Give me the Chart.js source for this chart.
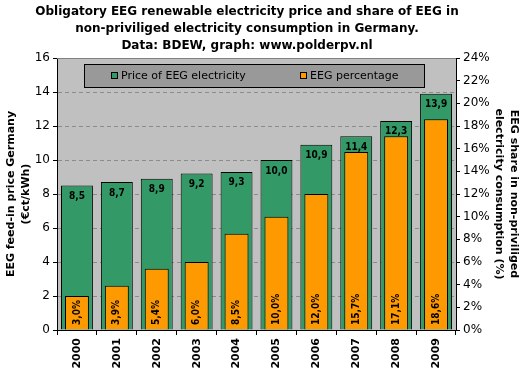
<!DOCTYPE html>
<html><head><meta charset="utf-8">
<script src="https://cdn.jsdelivr.net/npm/chart.js@4"></script>
<style>html,body{margin:0;padding:0;background:#fff}#wrap{width:531px;height:381px}</style>
</head><body><div id="wrap"><canvas id="c" width="531" height="381"></canvas></div>
<script>
const years = ['2000','2001','2002','2003','2004','2005','2006','2007','2008','2009'];
const priceValues = [8.5, 8.7, 8.9, 9.2, 9.3, 10.0, 10.9, 11.4, 12.3, 13.9];
const shareValues = [3.0, 3.9, 5.4, 6.0, 8.5, 10.0, 12.0, 15.7, 17.1, 18.6];
const titleLines = ['Obligatory EEG renewable electricity price and share of EEG in','non-priviliged electricity consumption in Germany.','Data: BDEW, graph: www.polderpv.nl'];
const leftTitle = ['EEG feed-in price Germany','(€ct/kWh)'];
const rightTitle = ['EEG share in non-priviliged','electricity consumption (%)'];

const fmt = v => v.toFixed(1).replace('.', ',');

const deco = {
  id: 'deco',
  beforeDraw(chart) {
    const {ctx, chartArea: a} = chart;
    ctx.save();
    ctx.fillStyle = '#c0c0c0';
    ctx.fillRect(a.left, a.top, a.right - a.left, a.bottom - a.top);
    ctx.restore();
  },
  afterDatasetsDraw(chart) {
    const {ctx, chartArea: a} = chart;
    ctx.save();
    ctx.strokeStyle = '#808080'; ctx.lineWidth = 1;
    ctx.beginPath(); ctx.moveTo(a.left, a.top + 0.5); ctx.lineTo(a.right, a.top + 0.5); ctx.stroke();
    const m0 = chart.getDatasetMeta(1), m1 = chart.getDatasetMeta(0);
    ctx.fillStyle = '#000';
    ctx.font = 'bold 10px "DejaVu Sans Condensed"';
    ctx.textAlign = 'center'; ctx.textBaseline = 'middle';
    m0.data.forEach((b, i) => { ctx.fillText(fmt(priceValues[i]), b.x, b.y + 11); });
    m1.data.forEach((b, i) => {
      ctx.save();
      ctx.translate(b.x, a.bottom - 5);
      ctx.rotate(-Math.PI / 2);
      ctx.textAlign = 'left';
      ctx.fillText(fmt(shareValues[i]) + '%', 0, 0);
      ctx.restore();
    });
    const lx = 84, ly = 64, lw = 340, lh = 23;
    ctx.fillStyle = '#999999'; ctx.fillRect(lx, ly, lw, lh);
    ctx.strokeStyle = '#000'; ctx.lineWidth = 1; ctx.strokeRect(lx + 0.5, ly + 0.5, lw, lh);
    const items = [[chart.data.datasets[1], 111], [chart.data.datasets[0], 300]];
    ctx.font = '11px "DejaVu Sans"'; ctx.textAlign = 'left'; ctx.textBaseline = 'middle';
    items.forEach(([ds, x]) => {
      ctx.fillStyle = ds.backgroundColor; ctx.fillRect(x, 72, 6, 6);
      ctx.strokeStyle = '#000'; ctx.strokeRect(x + 0.5, 72.5, 6, 6);
      ctx.fillStyle = '#000'; ctx.fillText(ds.label, x + 10, 76);
    });
    ctx.restore();
  },
  afterDraw(chart) {
    const {ctx, chartArea: a} = chart;
    ctx.save();
    ctx.fillStyle = '#000';
    ctx.textAlign = 'center'; ctx.textBaseline = 'middle';
    ctx.font = 'bold 12px "DejaVu Sans"';
    titleLines.forEach((t, i) => ctx.fillText(t, 247, 12 + i * 17));
    const cy = (a.top + a.bottom) / 2;
    ctx.font = 'bold 11px "DejaVu Sans"';
    [11, 26].forEach((x, i) => {
      ctx.save(); ctx.translate(x, cy); ctx.rotate(-Math.PI / 2);
      ctx.fillText(leftTitle[i], 0, 0); ctx.restore();
    });
    [514, 499].forEach((x, i) => {
      ctx.save(); ctx.translate(x, cy); ctx.rotate(Math.PI / 2);
      ctx.fillText(rightTitle[i], 0, 0); ctx.restore();
    });
    ctx.restore();
  }
};

new Chart(document.getElementById('c'), {
  type: 'bar',
  data: {
    labels: years,
    datasets: [
      { label: 'EEG percentage', data: shareValues, yAxisID: 'y2', backgroundColor: '#ff9900', borderColor: '#000', borderWidth: 1, barPercentage: 0.6, categoryPercentage: 1, grouped: false, order: 0 },
      { label: 'Price of EEG electricity', data: priceValues, yAxisID: 'y', backgroundColor: '#339966', borderColor: '#000', borderWidth: 1, barPercentage: 0.8, categoryPercentage: 1, grouped: false, order: 1 }
    ]
  },
  options: {
    responsive: false, animation: false, devicePixelRatio: 1,
    layout: { padding: { top: 58, left: 0, right: 0, bottom: 0 } },
    plugins: { legend: { display: false }, title: { display: false }, tooltip: { enabled: false } },
    scales: {
      x: {
        afterFit(s) { s.height = 51; },
        grid: { offset: true, drawOnChartArea: false, drawTicks: true, tickLength: 5, tickColor: '#000' },
        border: { display: true, color: '#000' },
        ticks: { color: '#000', font: { family: 'DejaVu Sans', weight: 'bold', size: 11 }, maxRotation: 90, minRotation: 90, padding: 3 }
      },
      y: {
        position: 'left', min: 0, max: 16,
        afterFit(s) { s.width = 57; },
        grid: { color: '#8c8c8c', drawTicks: true, tickLength: 4, tickColor: '#000', tickBorderDash: [] },
        border: { display: true, color: '#000', dash: [4, 3] },
        ticks: { stepSize: 2, color: '#000', font: { family: 'DejaVu Sans', size: 12 }, padding: 3 }
      },
      y2: {
        position: 'right', min: 0, max: 24,
        afterFit(s) { s.width = 75; },
        grid: { drawOnChartArea: false, drawTicks: true, tickLength: 4, tickColor: '#000' },
        border: { display: true, color: '#000' },
        ticks: { stepSize: 2, color: '#000', font: { family: 'DejaVu Sans', size: 12 }, padding: 3, callback: v => v + '%' }
      }
    }
  },
  plugins: [deco]
});
</script></body></html>
